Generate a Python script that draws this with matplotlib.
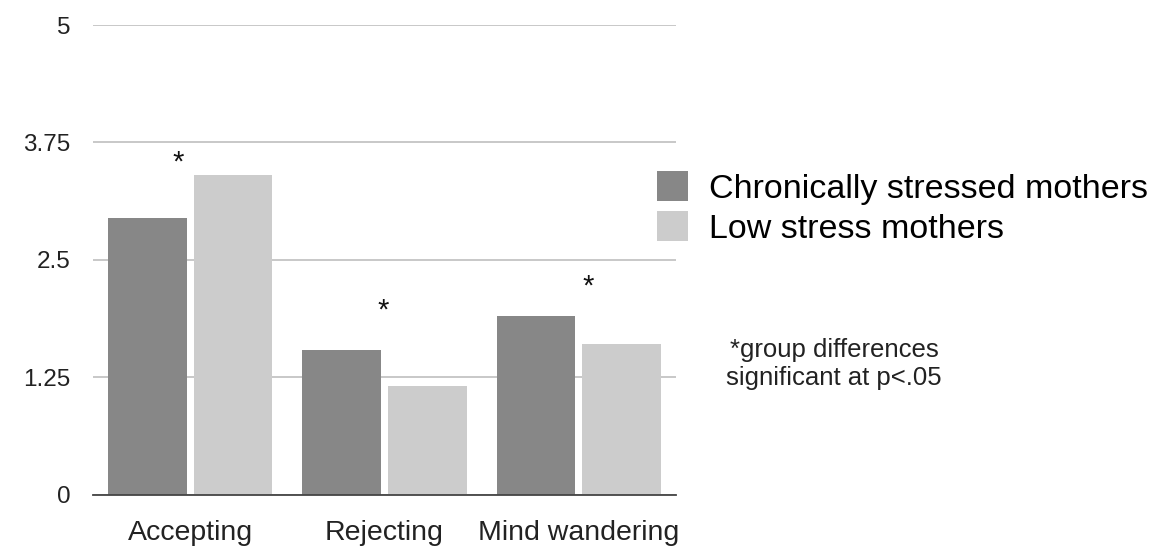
import numpy as np
import matplotlib
matplotlib.use("Agg")
import matplotlib.pyplot as plt

plt.rcParams['font.family'] = ['Liberation Sans', 'DejaVu Sans']

categories = ["Accepting", "Rejecting", "Mind wandering"]
stressed = [2.94, 1.535, 1.90]
low_stress = [3.40, 1.16, 1.60]
series_names = ["Chronically stressed mothers", "Low stress mothers"]
yticks = [0, 1.25, 2.5, 3.75, 5]
ytick_labels = ["0", "1.25", "2.5", "3.75", "5"]
# asterisk positions (category index offset, height)
star_x = [-0.063, -0.008, 0.046]
star_y = [3.54, 1.96, 2.21]
note = "*group differences\nsignificant at p<.05"

dark = "#878787"
light = "#cccccc"

fig = plt.figure(figsize=(11.68, 5.46), dpi=100)
ax = fig.add_axes([93 / 1168, 51.5 / 546, 583 / 1168, 469.5 / 546])

x = np.arange(len(categories))
w = 0.405
off = 0.221
ax.bar(x - off, stressed, w, color=dark, label=series_names[0], zorder=2)
ax.bar(x + off, low_stress, w, color=light, label=series_names[1], zorder=2)

for i in range(len(categories)):
    ax.text(x[i] + star_x[i], star_y[i], "*", fontsize=21, ha="center",
            va="center", color="#111111")

ax.set_xlim(-0.5, 2.5)
ax.set_ylim(0, 5)
ax.set_yticks(yticks)
ax.set_yticklabels(ytick_labels)
ax.set_xticks(x)
ax.set_xticklabels(categories)
ax.yaxis.grid(True, color="#c8c8c8", linewidth=1.4, zorder=0)
ax.set_axisbelow(True)
for s in ["top", "right", "left"]:
    ax.spines[s].set_visible(False)
ax.spines["bottom"].set_color("#444444")
ax.spines["bottom"].set_linewidth(1.3)
ax.spines["bottom"].set_zorder(3)
ax.tick_params(axis="y", length=0, pad=16, labelsize=17.5, labelcolor="#222222")
ax.tick_params(axis="x", length=0, pad=18, labelsize=20.5, labelcolor="#222222")

fig.legend(loc="upper left", bbox_to_anchor=(657 / 1168, 1 - 171 / 546),
           frameon=False, fontsize=24.5, handlelength=0.92, handleheight=1.0,
           handletextpad=0.62, labelspacing=0.18, borderpad=0, borderaxespad=0)

fig.text(834 / 1168, 1 - 364 / 546, note, ha="center", va="center",
         fontsize=18.5, color="#222222", linespacing=1.2)

fig.savefig("out.png", dpi=100)
